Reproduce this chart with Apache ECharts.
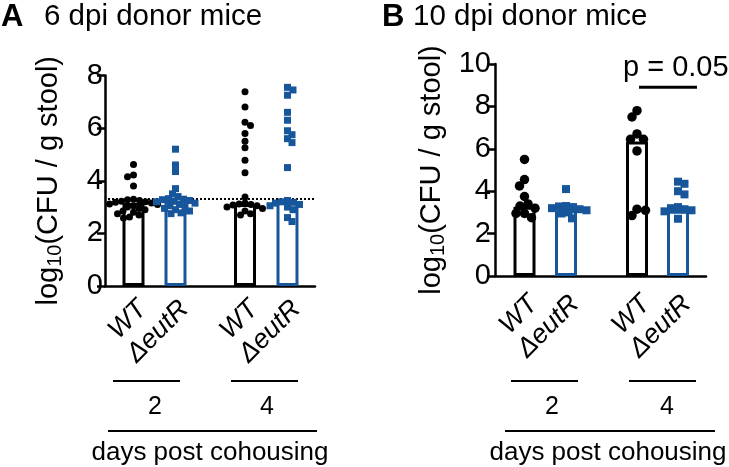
<!DOCTYPE html>
<html><head><meta charset="utf-8">
<script src="https://cdn.jsdelivr.net/npm/echarts@6/dist/echarts.min.js"></script>
<style>html,body{margin:0;padding:0;background:#fff}#c{width:729px;height:467px}</style>
</head><body><div id="c"></div>
<script>
// ---------------- data ----------------
const categories = ['WT', 'ΔeutR', 'WT', 'ΔeutR'];
const dayLabels = ['2', '4'];
const xAxisTitle = 'days post cohousing';
const panelTitles = ['6 dpi donor mice', '10 dpi donor mice'];
const panelLetters = ['A', 'B'];
const yTicksA = [0, 2, 4, 6, 8];
const yTicksB = [0, 2, 4, 6, 8, 10];
const detectionLimit = 3.3;

// panel A (6 dpi donor mice): bar = median
const barsA = [3.15, 3.25, 3.12, 3.2];
const wtDay2A = [4.62, 4.22, 4.15, 3.8, 3.3, 3.28, 3.25, 3.22, 3.2, 3.18, 3.15, 3.12, 3.1, 3.05, 3.0, 2.95, 2.9, 2.85, 2.8, 2.75, 2.7, 2.62, 2.58];
const eutRDay2A = [5.2, 4.6, 4.35, 3.7, 3.5, 3.4, 3.32, 3.3, 3.28, 3.25, 3.22, 3.2, 3.15, 3.1, 3.05, 3.0, 2.95, 2.9, 2.85, 2.78, 2.75];
const wtDay4A = [7.38, 6.8, 6.22, 6.1, 5.8, 5.5, 5.25, 4.78, 4.3, 3.38, 3.15, 3.12, 3.1, 3.08, 3.05, 3.0, 2.95, 2.85, 2.75, 2.7];
const eutRDay4A = [7.55, 7.45, 7.25, 6.6, 6.3, 5.9, 5.75, 5.6, 5.45, 4.5, 3.25, 3.2, 3.18, 3.15, 3.1, 3.05, 3.0, 2.9, 2.6, 2.45];

// panel B (10 dpi donor mice)
const barsB = [3.27, 3.1, 6.35, 3.08];
const wtDay2B = [5.5, 4.55, 4.25, 3.75, 3.4, 3.3, 3.2, 2.95, 2.95, 2.75];
const eutRDay2B = [4.1, 3.3, 3.28, 3.25, 3.2, 3.15, 3.1, 3.0, 2.95, 2.72];
const wtDay4B = [7.8, 7.5, 6.7, 6.45, 6.45, 5.9, 3.15, 3.1, 2.85];
const eutRDay4B = [4.45, 4.35, 4.0, 3.85, 3.25, 3.2, 3.15, 3.1, 3.05, 2.7];
const pText = 'p = 0.05';

// ---------------- layout ----------------
const FONT = 'Liberation Sans, Arial, sans-serif';
const BLACK = '#000000';
const BLUE = '#17569b';
const colors = [BLACK, BLUE, BLACK, BLUE];
const PX_PER_X = 10;
const panels = [
  { grid: {left: 105, top: 75.5, width: 210, height: 210.5}, xMax: 21, yMax: 8, ticks: yTicksA,
    pos: [2.85, 7.05, 14.0, 18.25], bars: barsA, groups: [wtDay2A, eutRDay2A, wtDay4A, eutRDay4A],
    dotSize: 7, sqSize: 7, dotFrom: 0.3, dotTo: 21,
    dayLines: [[0.8, 7.5], [12.6, 19.3]], dayText: [5.0, 16.2], longLine: [0.3, 21.2], longText: 10.5,
    nameGap: 40, labelMargin: 2 },
  { grid: {left: 495, top: 64, width: 211, height: 212}, xMax: 21.1, yMax: 10, ticks: yTicksB,
    pos: [2.95, 7.1, 14.2, 18.3], bars: barsB, groups: [wtDay2B, eutRDay2B, wtDay4B, eutRDay4B],
    dotSize: 9.5, sqSize: 8, dotFrom: 1.6, dotTo: 21.3,
    dayLines: [[1.6, 8.3], [13.4, 20.1]], dayText: [5.7, 17.2], longLine: [1.0, 22.0], longText: 11.3,
    nameGap: 47, labelMargin: 4 }
];
// annotation rows (pixel y) below the plots
const DAY_LINE_Y = 381, DAY_TEXT_Y = 407, LONG_LINE_Y = 431, LONG_TEXT_Y = 453;

function swarm(values, pxPerY, diam) {
  const placed = [];
  const offs = new Array(values.length);
  const order = values.map((v, i) => i).sort((a, b) => values[b] - values[a]);
  for (const i of order) {
    const y = values[i] * pxPerY;
    let best = 0;
    outer: for (let k = 0; k < 400; k++) {
      const cands = k === 0 ? [0] : (k % 2 ? [k * 0.5, -k * 0.5] : [-k * 0.5, k * 0.5]);
      for (const c of cands) {
        if (placed.every(p => Math.hypot(p.x - c, p.y - y) >= diam)) { best = c; break outer; }
      }
    }
    placed.push({x: best, y});
    offs[i] = best;
  }
  return offs;
}

const grids = [], xAxes = [], yAxes = [], series = [];
panels.forEach((P, pi) => {
  grids.push(P.grid);
  xAxes.push({ type: 'value', gridIndex: pi, min: 0, max: P.xMax, show: true,
    axisLine: {show: true, onZero: false, lineStyle: {color: BLACK, width: 2.5}},
    axisTick: {show: false}, axisLabel: {show: false}, splitLine: {show: false} });
  yAxes.push({ type: 'value', gridIndex: pi, min: 0, max: P.yMax, interval: 2,
    axisLine: {show: true, lineStyle: {color: BLACK, width: 2.5}},
    axisTick: {show: true, length: 8, lineStyle: {color: BLACK, width: 2.5}},
    axisLabel: {color: BLACK, fontSize: 29, fontFamily: FONT, margin: P.labelMargin},
    splitLine: {show: false},
    name: '{n|log}{s|10}{n|(CFU / g stool)}', nameLocation: 'middle', nameRotate: 90, nameGap: P.nameGap,
    nameTextStyle: {color: BLACK, fontFamily: FONT,
      rich: { n: {fontSize: 29, fontFamily: FONT, color: BLACK, lineHeight: 32},
              s: {fontSize: 20, fontFamily: FONT, color: BLACK, lineHeight: 14, verticalAlign: 'bottom'} } } });

  const pxPerY = P.grid.height / P.yMax;
  series.push({ type: 'bar', xAxisIndex: pi, yAxisIndex: pi, barWidth: 22, z: 2, silent: true,
    data: P.bars.map((h, i) => ({ value: [P.pos[i], h],
      itemStyle: {color: '#ffffff', borderColor: colors[i], borderWidth: 3} })),
    markLine: { silent: true, symbol: 'none', label: {show: false}, z: 4,
      lineStyle: {type: 'dotted', color: BLACK, width: 2},
      data: [[{coord: [P.dotFrom, detectionLimit]}, {coord: [P.dotTo, detectionLimit]}]] } });
  P.groups.forEach((vals, gi) => {
    const isWT = gi % 2 === 0;
    const size = isWT ? P.dotSize : P.sqSize;
    const offs = swarm(vals, pxPerY, size * 0.85);
    series.push({ type: 'scatter', xAxisIndex: pi, yAxisIndex: pi, z: 5, silent: true,
      symbol: isWT ? 'circle' : 'rect', symbolSize: size,
      itemStyle: {color: colors[gi], opacity: 1},
      data: vals.map((v, k) => [P.pos[gi] + offs[k] / PX_PER_X, v]) });
  });
  series.push({ type: 'custom', xAxisIndex: pi, yAxisIndex: pi, z: 6, silent: true, clip: false,
    data: [[0]],
    renderItem: function (params, api) {
      const children = [];
      P.pos.forEach((x, i) => {
        const c = api.coord([x, 0]);
        children.push({ type: 'text', x: c[0] + 9, y: c[1] + (pi === 0 ? 19 : 24), rotation: Math.PI / 4,
          style: { text: categories[i], fontSize: 27, fontStyle: 'italic', fontFamily: FONT,
            fill: BLACK, align: 'right', verticalAlign: 'middle' } });
      });
      P.dayLines.forEach((ext, i) => {
        const a = api.coord([ext[0], 0]), b = api.coord([ext[1], 0]);
        children.push({ type: 'line', shape: {x1: a[0], y1: DAY_LINE_Y, x2: b[0], y2: DAY_LINE_Y},
          style: {stroke: BLACK, lineWidth: 2} });
        const t = api.coord([P.dayText[i], 0]);
        children.push({ type: 'text', x: t[0], y: DAY_TEXT_Y,
          style: { text: dayLabels[i], fontSize: 25, fontFamily: FONT, fill: BLACK, align: 'center', verticalAlign: 'middle' } });
      });
      const a = api.coord([P.longLine[0], 0]), b = api.coord([P.longLine[1], 0]);
      children.push({ type: 'line', shape: {x1: a[0], y1: LONG_LINE_Y, x2: b[0], y2: LONG_LINE_Y},
        style: {stroke: BLACK, lineWidth: 2} });
      const t = api.coord([P.longText, 0]);
      children.push({ type: 'text', x: t[0], y: LONG_TEXT_Y,
        style: { text: xAxisTitle, fontSize: 26, fontFamily: FONT, fill: BLACK, align: 'center', verticalAlign: 'middle' } });
      return { type: 'group', children };
    } });
});

series.push({ type: 'custom', xAxisIndex: 1, yAxisIndex: 1, z: 6, silent: true, clip: false,
  data: [[0]],
  renderItem: function (params, api) {
    const a = api.coord([14.4, 8.9]), b = api.coord([20.2, 8.9]);
    const t = api.coord([12.8, 9.79]);
    return { type: 'group', children: [
      { type: 'line', shape: {x1: a[0], y1: a[1], x2: b[0], y2: b[1]}, style: {stroke: BLACK, lineWidth: 3} },
      { type: 'text', x: t[0], y: t[1], style: { text: pText, fontSize: 29, fontFamily: FONT, fill: BLACK,
        align: 'left', verticalAlign: 'middle' } } ] };
  } });

const chart = echarts.init(document.getElementById('c'), null, {renderer: 'canvas'});
chart.setOption({
  animation: false,
  backgroundColor: '#ffffff',
  grid: grids, xAxis: xAxes, yAxis: yAxes, series,
  graphic: [
    { type: 'text', left: 1, top: 2, style: {text: panelLetters[0], fontSize: 31, fontWeight: 'bold', fontFamily: FONT, fill: BLACK} },
    { type: 'text', left: 44, top: 2, style: {text: panelTitles[0], fontSize: 29.5, fontFamily: FONT, fill: BLACK} },
    { type: 'text', left: 382, top: 2, style: {text: panelLetters[1], fontSize: 31, fontWeight: 'bold', fontFamily: FONT, fill: BLACK} },
    { type: 'text', left: 413, top: 2, style: {text: panelTitles[1], fontSize: 29.5, fontFamily: FONT, fill: BLACK} }
  ]
});
</script></body></html>
